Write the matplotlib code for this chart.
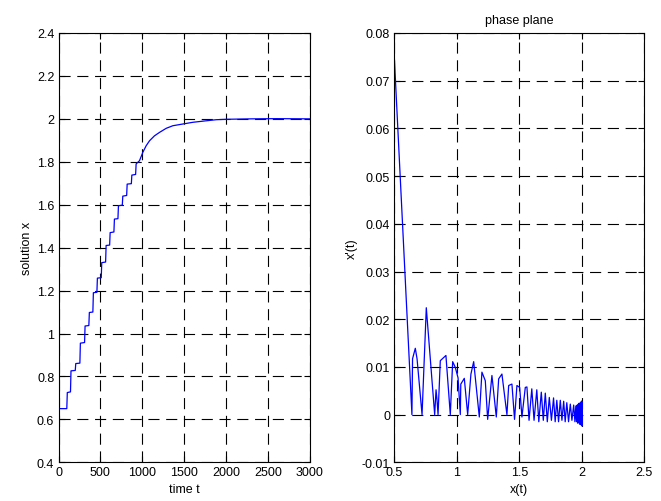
import matplotlib
matplotlib.use("Agg")
import matplotlib.pyplot as plt

plt.rcParams["font.family"] = ["Liberation Sans", "DejaVu Sans"]
plt.rcParams["font.size"] = 9

# left panel: solution x(t), corner points
t_pts = [0, 0, 99, 105, 143, 149, 200, 206, 255, 261, 311, 317, 362, 368,
         410, 416, 458, 464, 510, 516, 562, 568, 610, 616, 661, 667, 709,
         715, 761, 767, 813, 819, 869, 875, 920, 926, 966, 1006, 1046, 1086,
         1145, 1205, 1285, 1364, 1483, 1603, 1762, 1881, 2000, 2300, 2600,
         3000]
x_pts = [0.5, 0.65, 0.65, 0.725, 0.728, 0.826, 0.828, 0.86, 0.862, 0.955,
         0.958, 1.035, 1.037, 1.098, 1.1, 1.19, 1.192, 1.258, 1.26, 1.33,
         1.333, 1.41, 1.412, 1.47, 1.473, 1.533, 1.535, 1.595, 1.598, 1.64,
         1.643, 1.696, 1.698, 1.738, 1.741, 1.79, 1.805, 1.844, 1.875, 1.898,
         1.921, 1.937, 1.956, 1.968, 1.976, 1.984, 1.991, 1.996, 1.998,
         2.0, 2.001, 2.0]

# right panel: phase plane points, x(t)
phase_x = [0.5, 0.641, 0.646, 0.668, 0.682, 0.722, 0.756, 0.823, 0.834,
           0.842, 0.85, 0.868, 0.913, 0.948, 0.967, 0.988, 1.01, 1.028,
           1.032, 1.06, 1.087, 1.113, 1.135, 1.18, 1.201, 1.228, 1.247,
           1.281, 1.316, 1.335, 1.361, 1.401, 1.415, 1.441, 1.462, 1.481,
           1.503, 1.521, 1.548, 1.561,
           1.578, 1.60, 1.618, 1.64, 1.656, 1.676, 1.692, 1.708, 1.724, 1.74,
           1.757, 1.774, 1.787, 1.80, 1.814, 1.828, 1.841, 1.855, 1.867,
           1.88, 1.894, 1.908, 1.921, 1.935,
           1.945, 1.952, 1.958, 1.963, 1.968, 1.972, 1.976, 1.979, 1.982,
           1.985, 1.988, 1.99, 1.992, 1.994, 1.996, 1.998, 2.0, 2.001, 2.002,
           2.0, 2.001, 1.999, 2.0]
# ... and x'(t) at the same points
phase_v = [0.075, 0.0, 0.0117, 0.0139, 0.0117, 0.0, 0.0224, 0.0, 0.0052,
           0.003, 0.0, 0.0113, 0.0124, 0.0, 0.0111, 0.0099, 0.0077, 0.0,
           0.0064, 0.0076, 0.0, 0.0085, 0.0111, -0.0005, 0.0089, 0.0071, -0.001,
           0.0082, -0.0005, 0.0075, 0.0085, 0.0, 0.0061, 0.0064, -0.001, 0.0061,
           0.0057, -0.0005, 0.0057, 0.0058,
           -0.0012, 0.0054, -0.0012, 0.0052, -0.0015, 0.0047, -0.0012, 0.0045, -0.0015, 0.0036,
           -0.0012, 0.0035, -0.0015, 0.003, -0.0015, 0.003, -0.0012, 0.0028, -0.0015,
           0.0025, -0.0015, 0.0022, -0.0012, 0.002,
           -0.0015, 0.0018, -0.0015, 0.002, -0.0018, 0.0022, -0.0015, 0.0024, -0.002,
           0.0022, -0.0018, 0.0026, -0.002, 0.0025, -0.0022, 0.0028, -0.002, 0.0026, -0.0024,
           0.0028, -0.0015, 0.002, 0.001]

left_xticks = [0, 500, 1000, 1500, 2000, 2500, 3000]
left_yticks = [0.4, 0.6, 0.8, 1.0, 1.2, 1.4, 1.6, 1.8, 2.0, 2.2, 2.4]
left_yticklabels = ["0.4", "0.6", "0.8", "1", "1.2", "1.4", "1.6", "1.8", "2", "2.2", "2.4"]
right_xticks = [0.5, 1.0, 1.5, 2.0, 2.5]
right_xticklabels = ["0.5", "1", "1.5", "2", "2.5"]
right_yticks = [-0.01, 0.0, 0.01, 0.02, 0.03, 0.04, 0.05, 0.06, 0.07, 0.08]
right_yticklabels = ["-0.01", "0", "0.01", "0.02", "0.03", "0.04", "0.05", "0.06", "0.07", "0.08"]

fig = plt.figure(figsize=(6.61, 5.02), dpi=100)
ax1 = fig.add_axes([58.5 / 661, 1 - 463.3 / 502, 251.5 / 661, 429.3 / 502])
ax2 = fig.add_axes([394.3 / 661, 1 - 463.3 / 502, 250 / 661, 429.3 / 502])


def style(ax):
    ax.grid(True, color="black", linestyle=(0, (10, 6)), linewidth=0.8)
    ax.set_axisbelow(True)
    ax.tick_params(direction="in", length=4, top=True, right=True,
                   labelsize=9, pad=3)
    for s in ax.spines.values():
        s.set_linewidth(0.8)


ax1.plot(t_pts, x_pts, color="blue", linewidth=0.9)
ax1.set_xlim(0, 3000)
ax1.set_ylim(0.4, 2.4)
ax1.set_xticks(left_xticks)
ax1.set_yticks(left_yticks)
ax1.set_yticklabels(left_yticklabels)
ax1.set_xlabel("time t", labelpad=3)
ax1.set_ylabel("solution x", labelpad=3)
style(ax1)

ax2.plot(phase_x, phase_v, color="blue", linewidth=0.9)
ax2.set_xlim(0.5, 2.5)
ax2.set_ylim(-0.01, 0.08)
ax2.set_xticks(right_xticks)
ax2.set_xticklabels(right_xticklabels)
ax2.set_yticks(right_yticks)
ax2.set_yticklabels(right_yticklabels)
ax2.set_xlabel("x(t)", labelpad=3)
ax2.set_ylabel("x'(t)", labelpad=3)
ax2.set_title("phase plane", fontsize=9, pad=7)
style(ax2)

fig.savefig("out.png", dpi=100)
